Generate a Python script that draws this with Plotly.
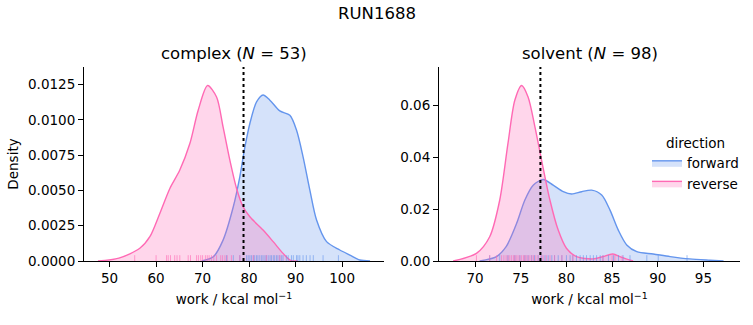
import plotly.graph_objects as go

# ---------------- data ----------------
# complex panel: KDE curves (work in kcal/mol, density)
cx_fwd_x = [69.8, 72.3, 74.4, 76.6, 78.0, 79.1, 80.16, 81.6, 83.0, 84.46, 86.6, 88.76, 90.2, 91.6, 93.06, 94.5, 96.65, 99.5, 101.66, 103.8, 106.0]
cx_fwd_y = [0.0, 0.0003, 0.00148, 0.00384, 0.00596, 0.00808, 0.00974, 0.01127, 0.01176, 0.01139, 0.01063, 0.01032, 0.00926, 0.00738, 0.00502, 0.0029, 0.00137, 0.00078, 0.00042, 0.00007, 0.0]
cx_rev_x = [47.5, 52.0, 56.5, 58.66, 60.8, 62.96, 65.1, 67.26, 69.05, 71.07, 73.0, 74.4, 75.86, 77.3, 78.7, 80.16, 83.0, 85.17, 87.3, 88.9, 90.5]
cx_rev_y = [0.0, 0.0002, 0.0009, 0.00172, 0.00337, 0.00514, 0.00644, 0.00832, 0.01068, 0.01243, 0.01162, 0.0095, 0.00714, 0.00514, 0.00384, 0.00313, 0.00219, 0.00137, 0.00054, 0.00005, 0.0]

# solvent panel: KDE curves
sv_fwd_x = [70.5, 72.35, 73.4, 74.55, 75.45, 76.36, 77.46, 78.55, 79.65, 80.57, 81.67, 82.76, 83.86, 84.77, 85.68, 86.6, 87.7, 89.5, 91.35, 93.5, 95.7, 97.2]
sv_fwd_y = [0.0, 0.0017, 0.0055, 0.0145, 0.0235, 0.0292, 0.0314, 0.0292, 0.0267, 0.0258, 0.0267, 0.0273, 0.0254, 0.0196, 0.0119, 0.0062, 0.0036, 0.0027, 0.0017, 0.0008, 0.0003, 0.0]
sv_rev_x = [67.6, 70.15, 71.6, 72.7, 73.6, 74.35, 75.09, 75.8, 76.55, 77.28, 78.19, 79.1, 80.0, 81.1, 82.9, 84.0, 85.06, 86.05, 87.3]
sv_rev_y = [0.0, 0.00296, 0.00935, 0.0235, 0.0453, 0.0619, 0.0676, 0.0632, 0.0517, 0.0388, 0.0235, 0.0119, 0.0049, 0.00167, 0.0008, 0.0017, 0.0027, 0.0014, 0.0]

# rug samples
cx_fwd_rug = [75.15, 76.6, 78.0, 79.45, 79.8, 80.16, 80.5, 80.9, 81.2, 81.6, 81.9, 82.3, 82.7, 83.0, 83.4, 83.7, 84.1, 84.5, 84.8, 85.2, 85.5, 85.9, 86.2, 86.6, 87.0, 87.3, 88.0, 88.4, 89.1, 89.5, 90.2, 90.5, 90.9, 91.6, 92.3, 93.1, 93.8, 95.9, 99.2]
cx_rev_rug = [55.4, 60.0, 62.25, 62.6, 63.1, 64.0, 64.5, 65.1, 66.9, 67.4, 68.7, 69.1, 69.6, 70.0, 70.6, 71.0, 71.4, 71.9, 72.4, 73.0, 73.9, 74.3, 74.8, 75.3, 76.2, 78.0, 80.9, 83.7, 86.6]
sv_fwd_rug = [71.6, 72.7, 73.6, 74.35, 74.9, 75.45, 75.8, 76.2, 76.5, 76.9, 77.3, 77.65, 78.0, 78.4, 78.7, 79.1, 79.5, 80.0, 80.4, 80.7, 81.1, 81.5, 81.85, 82.2, 82.6, 82.95, 83.3, 83.7, 84.0, 84.6, 85.15, 85.7, 86.2, 86.96, 88.8, 90.05, 93.2]
sv_rev_rug = [70.15, 71.6, 72.35, 72.9, 73.15, 73.4, 73.6, 73.8, 74.0, 74.2, 74.35, 74.5, 74.7, 74.9, 75.1, 75.3, 75.45, 75.6, 75.8, 76.0, 76.2, 76.4, 76.65, 76.9, 77.2, 77.45, 77.8, 78.2, 78.7, 79.5, 80.7, 84.0, 85.0, 85.3, 86.1]

# reference (dotted) lines
cx_vline = 78.8
sv_vline = 77.15

panel_titles = ["complex (<i>N</i> = 53)", "solvent (<i>N</i> = 98)"]
directions = ["forward", "reverse"]
xlabel = "work / kcal mol<sup>\u22121</sup>"

# ---------------- styles ----------------
FONT = "DejaVu Sans"
BLUE = "#6495ED"
PINK = "#FF69B4"
BLUE_FILL = "rgba(100,149,237,0.27)"
PINK_FILL = "rgba(255,105,180,0.27)"

W, H = 753, 325
fig = go.Figure()

panels = [
    ("x", "y", cx_fwd_x, cx_fwd_y, cx_rev_x, cx_rev_y, cx_fwd_rug, cx_rev_rug, cx_vline, True),
    ("x2", "y2", sv_fwd_x, sv_fwd_y, sv_rev_x, sv_rev_y, sv_fwd_rug, sv_rev_rug, sv_vline, False),
]

for xa, ya, fx, fy, rx, ry, frug, rrug, vline, show in panels:
    fig.add_trace(go.Scatter(x=fx, y=fy, mode="lines", name=directions[0],
                             line=dict(color=BLUE, width=1.4, shape="spline", smoothing=0.8),
                             fill="tozeroy", fillcolor=BLUE_FILL, xaxis=xa, yaxis=ya,
                             showlegend=not show, legendrank=1))
    fig.add_trace(go.Scatter(x=rx, y=ry, mode="lines", name=directions[1],
                             line=dict(color=PINK, width=1.4, shape="spline", smoothing=0.8),
                             fill="tozeroy", fillcolor=PINK_FILL, xaxis=xa, yaxis=ya,
                             showlegend=not show, legendrank=2))
    xref = xa
    yref = ya + " domain"
    for v in frug:
        fig.add_shape(type="line", xref=xref, yref=yref, x0=v, x1=v, y0=0, y1=0.03,
                      line=dict(color="rgba(100,149,237,0.6)", width=1))
    for v in rrug:
        fig.add_shape(type="line", xref=xref, yref=yref, x0=v, x1=v, y0=0, y1=0.03,
                      line=dict(color="rgba(255,105,180,0.6)", width=1))
    fig.add_shape(type="line", xref=xref, yref=ya + " domain", x0=vline, x1=vline, y0=0, y1=1,
                  line=dict(color="black", width=2, dash="dot"))

axis_common = dict(showline=True, linecolor="black", linewidth=1.1, ticks="outside",
                   ticklen=5, tickwidth=1.1, tickcolor="black", showgrid=False, zeroline=False,
                   tickfont=dict(family=FONT, size=13.5, color="black"), automargin=False)

fig.update_layout(
    width=W, height=H,
    margin=dict(l=0, r=0, t=0, b=0),
    paper_bgcolor="white", plot_bgcolor="white",
    font=dict(family=FONT, color="black"),
    xaxis=dict(domain=[84 / W, 384 / W], range=[44.5, 109.0], tickvals=[50, 60, 70, 80, 90, 100],
               title=dict(text=xlabel, font=dict(family=FONT, size=13.5), standoff=9), anchor="y", **axis_common),
    yaxis=dict(domain=[1 - 261 / H, 1 - 67 / H], range=[0, 0.01374],
               tickvals=[0, 0.0025, 0.005, 0.0075, 0.01, 0.0125], tickformat=".4f",
               title=dict(text="Density", font=dict(family=FONT, size=13.5), standoff=6), anchor="x", **axis_common),
    xaxis2=dict(domain=[439 / W, 740 / W], range=[66.05, 99.0], tickvals=[70, 75, 80, 85, 90, 95],
                title=dict(text=xlabel, font=dict(family=FONT, size=13.5), standoff=9), anchor="y2", **axis_common),
    yaxis2=dict(domain=[1 - 261 / H, 1 - 67 / H], range=[0, 0.07473],
                tickvals=[0, 0.02, 0.04, 0.06], tickformat=".2f", anchor="x2", **axis_common),
    legend=dict(x=647 / W, y=1 - 130 / H, xanchor="left", yanchor="top",
                bgcolor="rgba(255,255,255,0)", font=dict(family=FONT, size=13.5),
                title=dict(text="direction", side="top center", font=dict(family=FONT, size=13.5)),
                tracegroupgap=0, itemwidth=30),
    annotations=[
        dict(text="RUN1688", x=0.5, y=1 - 13 / H, xref="paper", yref="paper", showarrow=False,
             font=dict(family=FONT, size=16.5), xanchor="center", yanchor="middle"),
        dict(text=panel_titles[0], x=234 / W, y=1 - 54 / H, xref="paper", yref="paper", showarrow=False,
             font=dict(family=FONT, size=16.5), xanchor="center", yanchor="middle"),
        dict(text=panel_titles[1], x=589.5 / W, y=1 - 54 / H, xref="paper", yref="paper", showarrow=False,
             font=dict(family=FONT, size=16.5), xanchor="center", yanchor="middle"),
    ],
)

fig.write_html("out.html")
